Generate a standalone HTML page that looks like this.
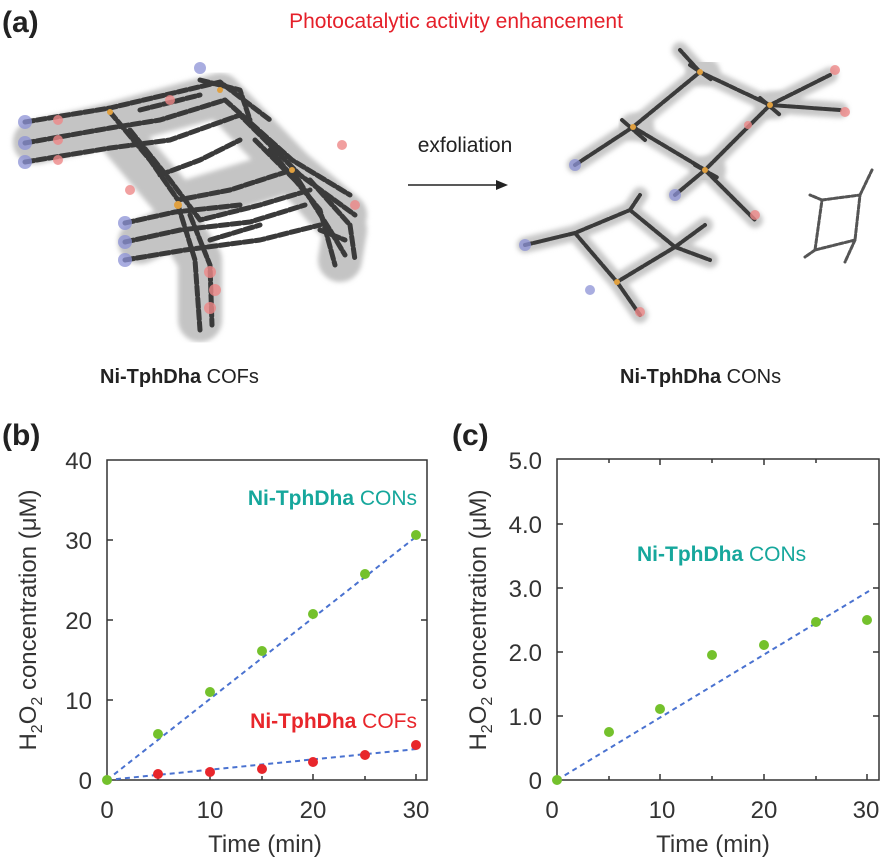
<!DOCTYPE html>
<html><head><meta charset="utf-8"><style>
body{margin:0;background:#fff;width:880px;height:858px;overflow:hidden;font-family:"Liberation Sans",Arial,sans-serif}
svg{display:block}
</style></head><body>
<svg width="880" height="858" viewBox="0 0 880 858" xmlns="http://www.w3.org/2000/svg" font-family="Liberation Sans, Arial, sans-serif">
<defs>
<filter id="bl"><feGaussianBlur stdDeviation="2.5"/></filter>
</defs>
<text x="2" y="32" font-size="30" font-weight="bold" fill="#222">(a)</text>
<text x="456" y="28" font-size="21" fill="#e5202a" text-anchor="middle">Photocatalytic activity enhancement</text>

<!-- COF approximation -->
<g stroke-linecap="round" stroke-linejoin="round" fill="none">
 <g stroke="#c4c4c4" stroke-width="44" filter="url(#bl)">
  <path d="M35,142 L110,125 L220,95 L292,170 L345,215"/>
  <path d="M110,125 L178,205 L292,170"/>
  <path d="M140,242 L178,225 L200,260 L200,320"/>
  <path d="M292,170 L345,230 L340,260"/>
 </g>
 <g stroke="#3a3a3a" stroke-width="5" stroke-dasharray="9,3">
  <path d="M25,122 L110,108 L220,82 L270,120"/>
  <path d="M25,143 L110,128 L160,120 L225,100 L292,160 L350,195"/>
  <path d="M25,162 L110,148 L170,140 L240,115 L300,175 L355,215"/>
  <path d="M110,112 L150,160 L178,200 L230,190 L292,170"/>
  <path d="M130,130 L170,180 L200,220 L260,205 L310,190"/>
  <path d="M125,223 L175,212 L240,205"/>
  <path d="M125,242 L180,230 L250,222 L305,205"/>
  <path d="M125,260 L185,250 L260,240 L320,225"/>
  <path d="M178,205 L195,260 L200,330"/>
  <path d="M190,215 L210,265 L212,325"/>
  <path d="M292,170 L330,230 L345,255"/>
  <path d="M310,180 L350,225 L355,260"/>
  <path d="M270,150 L320,210 L335,265"/>
  <path d="M200,80 L240,90 L250,120"/>
  <path d="M140,110 L200,95 M255,140 L300,185 M160,175 L200,160 L240,140 M210,240 L260,225 M320,230 L345,240"/>
 </g>
 <g fill="#8c92d6" stroke="none" opacity="0.75">
  <circle cx="25" cy="122" r="7"/><circle cx="25" cy="143" r="7"/><circle cx="25" cy="162" r="7"/>
  <circle cx="125" cy="223" r="7"/><circle cx="125" cy="242" r="7"/><circle cx="125" cy="260" r="7"/>
  <circle cx="200" cy="68" r="6"/>
 </g>
 <g fill="#e88" stroke="none" opacity="0.8">
  <circle cx="58" cy="120" r="5"/><circle cx="58" cy="140" r="5"/><circle cx="58" cy="160" r="5"/>
  <circle cx="210" cy="272" r="6"/><circle cx="215" cy="290" r="6"/><circle cx="210" cy="308" r="6"/>
  <circle cx="342" cy="145" r="5"/><circle cx="355" cy="205" r="5"/><circle cx="130" cy="190" r="5"/><circle cx="170" cy="100" r="5"/>
 </g>
 <g fill="#e0a040" stroke="none"><circle cx="110" cy="112" r="3"/><circle cx="220" cy="90" r="3"/><circle cx="292" cy="170" r="3"/><circle cx="178" cy="205" r="4"/></g>
</g>

<text x="465" y="152" font-size="21" fill="#222" text-anchor="middle">exfoliation</text>
<line x1="408" y1="185" x2="500" y2="185" stroke="#222" stroke-width="1.5"/>
<polygon points="496,180 508,185 496,190" fill="#222"/>

<!-- CONs approximation -->
<g stroke-linecap="round" stroke-linejoin="round" fill="none">
 <g stroke="#c8c8c8" stroke-width="16" filter="url(#bl)">
  <path d="M575,165 L633,127 L700,72 L770,105 L705,170 L633,127"/>
  <path d="M705,170 L675,195 M705,170 L755,220 M770,105 L840,110 M770,105 L830,75 M700,72 L680,50"/>
  <path d="M525,245 L575,233 L630,210 L675,247 L617,282 L575,233 M617,282 L640,315 M675,247 L710,260 M630,210 L640,195 M675,247 L705,225"/>
 </g>
 <g stroke="#c8c8c8" stroke-width="28" filter="url(#bl)">
  <path d="M633,127 L640,127 M700,72 L706,72 M770,105 L776,105 M705,170 L712,170"/>
 </g>
 <g stroke="#3a3a3a" stroke-width="4" stroke-dasharray="7,2">
  <path d="M575,165 L633,127 L700,72 L770,105 L705,170 L633,127"/>
  <path d="M705,170 L675,195 M705,170 L755,220 M770,105 L840,110 M770,105 L830,75 M700,72 L680,50"/>
  <path d="M525,245 L575,233 L630,210 L675,247 L617,282 L575,233 M617,282 L640,315 M675,247 L710,260 M630,210 L640,195 M675,247 L705,225"/>
  <path d="M622,120 L645,140 M690,65 L712,80 M760,98 L780,115 M695,165 L718,178"/>
 </g>
 <g stroke="#555" stroke-width="3" stroke-dasharray="4,2">
  <path d="M822,200 L860,195 L855,240 L815,250 Z M822,200 L810,195 M860,195 L872,170 M815,250 L805,257 M855,240 L845,262"/>
 </g>
 <g fill="#8c92d6" stroke="none" opacity="0.75"><circle cx="575" cy="165" r="6"/><circle cx="675" cy="195" r="6"/><circle cx="525" cy="245" r="6"/><circle cx="590" cy="290" r="5"/></g>
 <g fill="#e88" stroke="none" opacity="0.8"><circle cx="755" cy="215" r="5"/><circle cx="835" cy="70" r="5"/><circle cx="845" cy="112" r="5"/><circle cx="640" cy="312" r="5"/><circle cx="748" cy="125" r="4"/></g>
 <g fill="#e0a040" stroke="none"><circle cx="633" cy="127" r="3"/><circle cx="700" cy="72" r="3"/><circle cx="770" cy="105" r="3"/><circle cx="705" cy="170" r="3"/><circle cx="617" cy="282" r="3"/></g>
</g>

<text x="100" y="383" font-size="20" fill="#222"><tspan font-weight="bold">Ni-TphDha</tspan> COFs</text>
<text x="620" y="383" font-size="20" fill="#222"><tspan font-weight="bold">Ni-TphDha</tspan> CONs</text>

<!-- (b) -->
<text x="2" y="445" font-size="30" font-weight="bold" fill="#222">(b)</text>
<g font-size="24" fill="#333">
 <text x="92" y="469" text-anchor="end">40</text>
 <text x="92" y="549" text-anchor="end">30</text>
 <text x="92" y="629" text-anchor="end">20</text>
 <text x="92" y="709" text-anchor="end">10</text>
 <text x="92" y="789" text-anchor="end">0</text>
 <text x="107" y="818" text-anchor="middle">0</text>
 <text x="210" y="818" text-anchor="middle">10</text>
 <text x="313" y="818" text-anchor="middle">20</text>
 <text x="416" y="818" text-anchor="middle">30</text>
 <text x="265" y="852" text-anchor="middle">Time (min)</text>
 <text transform="translate(36,620) rotate(-90)" text-anchor="middle">H<tspan font-size="16" dy="6">2</tspan><tspan dy="-6">O</tspan><tspan font-size="16" dy="6">2</tspan><tspan dy="-6"> concentration (μM)</tspan></text>
</g>
<rect x="107" y="460" width="320" height="320" fill="none" stroke="#333" stroke-width="1.5"/>
<g stroke="#333" stroke-width="1.5">
 <line x1="107" y1="540" x2="113" y2="540"/><line x1="107" y1="620" x2="113" y2="620"/><line x1="107" y1="700" x2="113" y2="700"/>
 <line x1="427" y1="540" x2="421" y2="540"/><line x1="427" y1="620" x2="421" y2="620"/><line x1="427" y1="700" x2="421" y2="700"/>
 <line x1="210" y1="780" x2="210" y2="774"/><line x1="313" y1="780" x2="313" y2="774"/><line x1="416" y1="780" x2="416" y2="774"/>
 <line x1="158" y1="780" x2="158" y2="776"/><line x1="262" y1="780" x2="262" y2="776"/><line x1="365" y1="780" x2="365" y2="776"/>
</g>
<line x1="107" y1="780" x2="417" y2="536" stroke="#4a72d0" stroke-width="2" stroke-dasharray="5,4"/>
<line x1="107" y1="780" x2="417" y2="749" stroke="#4a72d0" stroke-width="2" stroke-dasharray="5,4"/>
<g fill="#74c12c">
 <circle cx="107" cy="780" r="5"/><circle cx="158" cy="734" r="5"/><circle cx="210" cy="692" r="5"/><circle cx="262" cy="651" r="5"/><circle cx="313" cy="614" r="5"/><circle cx="365" cy="574" r="5"/><circle cx="416" cy="535" r="5"/>
</g>
<g fill="#e8262b">
 <circle cx="158" cy="774" r="5"/><circle cx="210" cy="772" r="5"/><circle cx="262" cy="769" r="5"/><circle cx="313" cy="762" r="5"/><circle cx="365" cy="755" r="5"/><circle cx="416" cy="745" r="5"/>
</g>
<text x="417" y="505" font-size="21" fill="#16a79c" text-anchor="end"><tspan font-weight="bold">Ni-TphDha</tspan> CONs</text>
<text x="417" y="728" font-size="21" fill="#e8262b" text-anchor="end"><tspan font-weight="bold">Ni-TphDha</tspan> COFs</text>

<!-- (c) -->
<text x="452" y="445" font-size="30" font-weight="bold" fill="#222">(c)</text>
<g font-size="24" fill="#333">
 <text x="542" y="469" text-anchor="end">5.0</text>
 <text x="542" y="533" text-anchor="end">4.0</text>
 <text x="542" y="597" text-anchor="end">3.0</text>
 <text x="542" y="661" text-anchor="end">2.0</text>
 <text x="542" y="725" text-anchor="end">1.0</text>
 <text x="542" y="789" text-anchor="end">0</text>
 <text x="552" y="818" text-anchor="middle">0</text>
 <text x="662" y="818" text-anchor="middle">10</text>
 <text x="764" y="818" text-anchor="middle">20</text>
 <text x="866" y="818" text-anchor="middle">30</text>
 <text x="713" y="852" text-anchor="middle">Time (min)</text>
 <text transform="translate(486,620) rotate(-90)" text-anchor="middle">H<tspan font-size="16" dy="6">2</tspan><tspan dy="-6">O</tspan><tspan font-size="16" dy="6">2</tspan><tspan dy="-6"> concentration (μM)</tspan></text>
</g>
<rect x="557" y="459" width="322" height="321" fill="none" stroke="#333" stroke-width="1.5"/>
<g stroke="#333" stroke-width="1.5">
 <line x1="557" y1="524" x2="563" y2="524"/><line x1="557" y1="588" x2="563" y2="588"/><line x1="557" y1="652" x2="563" y2="652"/><line x1="557" y1="716" x2="563" y2="716"/>
 <line x1="879" y1="524" x2="873" y2="524"/><line x1="879" y1="588" x2="873" y2="588"/><line x1="879" y1="652" x2="873" y2="652"/><line x1="879" y1="716" x2="873" y2="716"/>
 <line x1="609" y1="780" x2="609" y2="776"/><line x1="660" y1="780" x2="660" y2="774"/><line x1="712" y1="780" x2="712" y2="776"/><line x1="764" y1="780" x2="764" y2="774"/><line x1="816" y1="780" x2="816" y2="776"/><line x1="867" y1="780" x2="867" y2="774"/>
 <line x1="609" y1="459" x2="609" y2="463"/><line x1="660" y1="459" x2="660" y2="465"/><line x1="712" y1="459" x2="712" y2="463"/><line x1="764" y1="459" x2="764" y2="465"/><line x1="816" y1="459" x2="816" y2="463"/>
</g>
<line x1="557" y1="780" x2="869" y2="591" stroke="#4a72d0" stroke-width="2" stroke-dasharray="5,4"/>
<g fill="#74c12c">
 <circle cx="557" cy="780" r="5"/><circle cx="609" cy="732" r="5"/><circle cx="660" cy="709" r="5"/><circle cx="712" cy="655" r="5"/><circle cx="764" cy="645" r="5"/><circle cx="816" cy="622" r="5"/><circle cx="867" cy="620" r="5"/>
</g>
<text x="637" y="561" font-size="21" fill="#16a79c"><tspan font-weight="bold">Ni-TphDha</tspan> CONs</text>
</svg>
</body></html>
